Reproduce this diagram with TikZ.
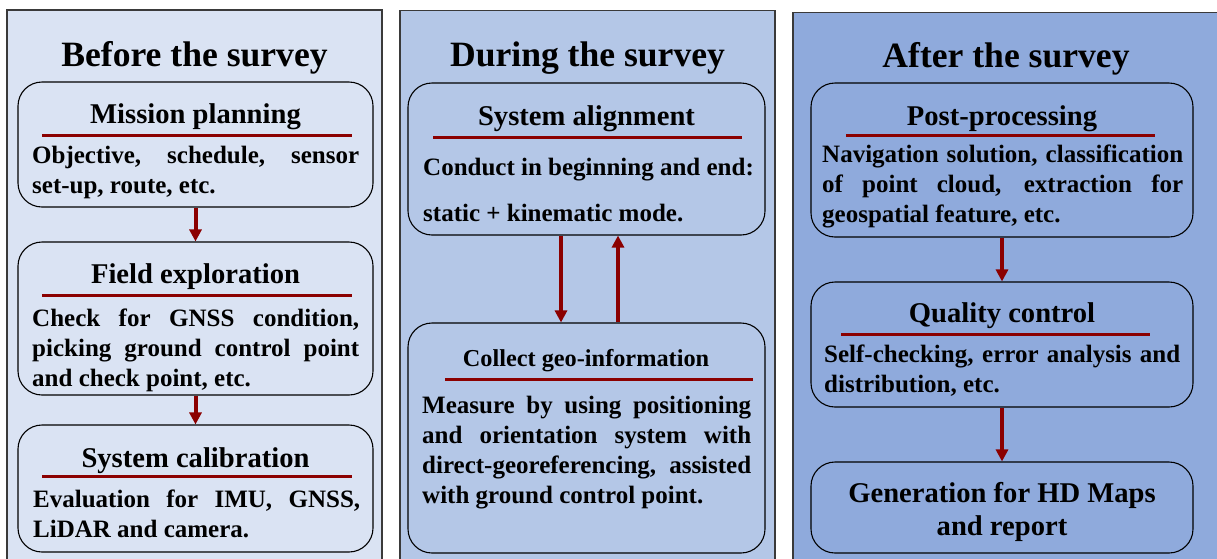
\documentclass[tikz,border=0pt]{standalone}
\usepackage{fontspec}
\setmainfont{Liberation Serif}
\usetikzlibrary{arrows.meta}
\definecolor{paneA}{HTML}{DAE3F3}
\definecolor{paneB}{HTML}{B4C7E7}
\definecolor{paneC}{HTML}{8FAADC}
\definecolor{paneedge}{HTML}{3A3A3A}
\definecolor{accent}{HTML}{8B0000}
\newcommand{\headfont}{\bfseries\fontsize{35.6}{40}\selectfont}
\newcommand{\titlefont}{\bfseries\fontsize{28.6}{33}\selectfont}
\newcommand{\subtitlefont}{\bfseries\fontsize{24.3}{29}\selectfont}
\newcommand{\bodyfont}{\bfseries\fontsize{25}{30}\selectfont
  \hyphenpenalty=10000 \exhyphenpenalty=10000 \tolerance=10000}
\tikzset{
  panel/.style={draw=paneedge, line width=1.5pt},
  stepbox/.style={draw=black, line width=1.1pt, rounded corners=24pt,
    inner sep=0pt},
  heading/.style={anchor=base, inner sep=0pt, font=\headfont},
  boxtitle/.style={anchor=base, inner sep=0pt, font=\titlefont},
  bodytext/.style={anchor=base west, inner sep=0pt, text width=#1,
    align=justify, font=\bodyfont},
  rule/.style={draw=accent, line width=3pt},
  flow/.style={draw=accent, line width=4pt,
    -{Triangle[width=12pt,length=12pt]}}
}
\begin{document}
\begin{tikzpicture}[x=1pt,y=-1pt]
\useasboundingbox (0,0) rectangle (1217,558);
\clip (0,0) rectangle (1217,558);
\fill[white] (0,0) rectangle (1217,558);

% the three phase panels
\path[panel, fill=paneA] (7,10) rectangle (382,570);
\path[panel, fill=paneB] (400,10.5) rectangle (775,570);
\path[panel, fill=paneC] (793,12.5) rectangle (1230,570);

\node[heading] (hA) at (194.5,66) {Before the survey};
\node[heading] (hB) at (587.5,66) {During the survey};
\node[heading] (hC) at (1006,67) {After the survey};

% ---------- before the survey ----------
\node[stepbox, minimum width=355pt, minimum height=125pt] (mp) at (195.5,144.5) {};
\node[stepbox, minimum width=355pt, minimum height=153pt] (fe) at (195.5,318.5) {};
\node[stepbox, minimum width=355pt, minimum height=127pt] (sc) at (195.5,488.5) {};

\node[boxtitle] (mpT) at (195.5,123) {Mission planning};
\draw[rule] (42,135) -- (352,135);
\node[bodytext=327pt] (mpB) at (32,163)
  {Objective, schedule, sensor\linebreak set-up, route, etc.};

\node[boxtitle] (feT) at (195.5,283) {Field exploration};
\draw[rule] (42,295) -- (352,295);
\node[bodytext=327pt] (feB) at (32,326)
  {Check for GNSS condition,\linebreak picking ground control point\linebreak and check point, etc.};

\node[boxtitle] (scT) at (195.5,467) {System calibration};
\draw[rule] (42,476) -- (352,476);
\node[bodytext=327pt] (scB) at (33,507)
  {Evaluation for IMU, GNSS,\linebreak LiDAR and camera.};

\draw[flow] (mp.south) -- (fe.north);
\draw[flow] (fe.south) -- (sc.north);

% ---------- during the survey ----------
\node[stepbox, minimum width=357pt, minimum height=152pt] (sa) at (586.5,159) {};
\node[stepbox, minimum width=357pt, minimum height=230pt] (cg) at (586.5,438) {};

\node[boxtitle] (saT) at (586.5,125) {System alignment};
\draw[rule] (433,137) -- (742,137);
\node[anchor=base west, inner sep=0pt, font=\bodyfont] (saB1) at (423,175)
  {Conduct in beginning and end:};
\node[anchor=base west, inner sep=0pt, font=\bodyfont] (saB2) at (423,221)
  {static + kinematic mode.};

\node[anchor=base, inner sep=0pt, font=\subtitlefont] (cgT) at (586,366) {Collect geo-information};
\draw[rule] (445,379) -- (753,379);
\node[bodytext=329pt] (cgB) at (422,413)
  {Measure by using positioning\linebreak and orientation system with\linebreak direct-georeferencing, assisted\linebreak with ground control point.};

\draw[flow] ([xshift=-25.5pt]sa.south) -- ([xshift=-25.5pt]cg.north);
\draw[flow] ([xshift=31.5pt]cg.north) -- ([xshift=31.5pt]sa.south);

% ---------- after the survey ----------
\node[stepbox, minimum width=382pt, minimum height=154pt] (pp) at (1002,160) {};
\node[stepbox, minimum width=382pt, minimum height=125pt] (qc) at (1002,344.5) {};
\node[stepbox, minimum width=382pt, minimum height=91pt] (gh) at (1002,507.5) {};

\node[boxtitle] (ppT) at (1002,125) {Post-processing};
\draw[rule] (846,135) -- (1155,135);
\node[bodytext=361pt] (ppB) at (822,162)
  {Navigation solution, classification\linebreak of point cloud, extraction for\linebreak geospatial feature, etc.};

\node[boxtitle] (qcT) at (1002,322) {Quality control};
\draw[rule] (841,334) -- (1150,334);
\node[bodytext=356pt] (qcB) at (824,362)
  {Self-checking, error analysis and\linebreak distribution, etc.};

\node[boxtitle] (ghT1) at (1002,502) {Generation for HD Maps};
\node[boxtitle] (ghT2) at (1002,535) {and report};

\draw[flow] (pp.south) -- (qc.north);
\draw[flow] (qc.south) -- (gh.north);
\end{tikzpicture}
\end{document}
